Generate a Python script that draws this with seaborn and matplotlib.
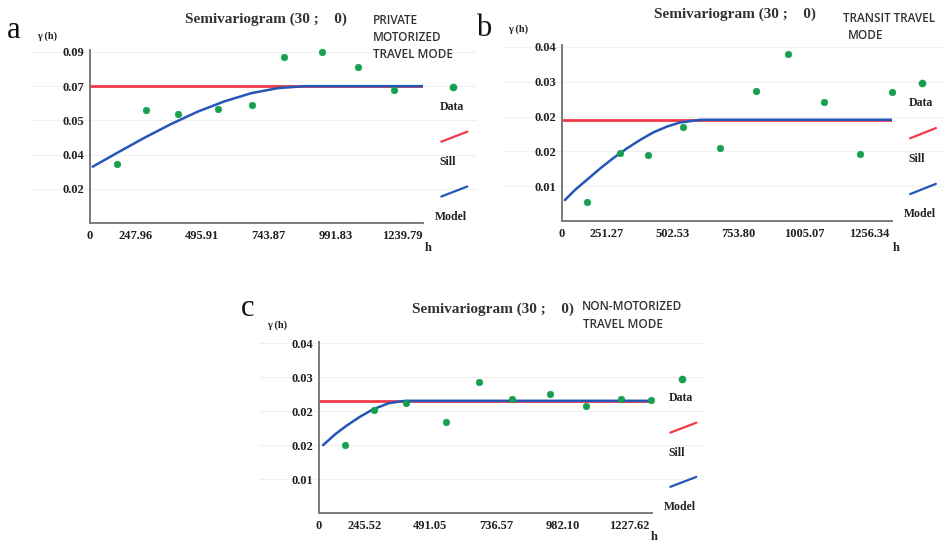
import matplotlib
matplotlib.use("Agg")
import matplotlib.pyplot as plt
import matplotlib.transforms as mtransforms
import pandas as pd
import seaborn as sns

# ---------------- data ----------------
# Panel a: private motorized travel mode
a_lag = [100, 208, 328, 477, 603, 722, 864, 998, 1132]
a_gamma = [0.0302, 0.0578, 0.0558, 0.0583, 0.0604, 0.0849, 0.0875, 0.0798, 0.0681]
a_model_h = [10, 100, 200, 300, 400, 500, 600, 700, 800, 1240]
a_model_g = [0.0288, 0.0358, 0.0434, 0.0505, 0.0569, 0.0622, 0.0664, 0.0690, 0.0700, 0.0700]
a_sill = 0.070
a_xticks = [0, 247.96, 495.91, 743.87, 991.83, 1239.79]
a_xlabels = ["0", "247.96", "495.91", "743.87", "991.83", "1239.79"]
a_yticks = [0.0175, 0.035, 0.0525, 0.07, 0.0875]
a_ylabels = ["0.02", "0.04", "0.05", "0.07", "0.09"]

# Panel b: transit travel mode
b_lag = [96, 223, 329, 464, 604, 742, 864, 1001, 1141, 1261]
b_gamma = [0.0040, 0.0147, 0.0142, 0.0203, 0.0157, 0.0281, 0.0359, 0.0257, 0.0145, 0.0277]
b_model_h = [11, 50, 100, 150, 200, 250, 300, 350, 400, 450, 530, 1262]
b_model_g = [0.0045, 0.0067, 0.0091, 0.0115, 0.0137, 0.0157, 0.0175, 0.0191, 0.0203, 0.0212, 0.0218, 0.0218]
b_sill = 0.0218
b_xticks = [0, 251.27, 502.53, 753.80, 1005.07, 1256.34]
b_xlabels = ["0", "251.27", "502.53", "753.80", "1005.07", "1256.34"]
b_yticks = [0.0075, 0.015, 0.0225, 0.03, 0.0375]
b_ylabels = ["0.01", "0.02", "0.02", "0.03", "0.04"]

# Panel c: non-motorized travel mode
c_lag = [95, 203, 322, 473, 594, 716, 856, 990, 1120, 1234]
c_gamma = [0.0150, 0.0227, 0.0244, 0.0201, 0.0289, 0.0253, 0.0262, 0.0237, 0.0252, 0.0249]
c_model_h = [15, 60, 100, 150, 200, 260, 320, 1236]
c_model_g = [0.0150, 0.0174, 0.0192, 0.0212, 0.0229, 0.0243, 0.0248, 0.0248]
c_sill = 0.0248
c_xticks = [0, 245.52, 491.05, 736.57, 982.10, 1227.62]
c_xlabels = ["0", "245.52", "491.05", "736.57", "982.10", "1227.62"]
c_yticks = [0.0075, 0.015, 0.0225, 0.03, 0.0375]
c_ylabels = ["0.01", "0.02", "0.02", "0.03", "0.04"]

# ---------------- style ----------------
sns.set_theme(style="white")
plt.rcParams["font.family"] = ["Liberation Serif", "DejaVu Serif"]

W, H = 949, 545
fig = plt.figure(figsize=(W / 100, H / 100), dpi=100)
fig.patch.set_facecolor("white")

GREEN = "#17a050"
RED = "#f03a45"
BLUE = "#2456b8"
SERIF = ["Liberation Serif", "DejaVu Serif"]
SANS = ["Open Sans", "Lato", "DejaVu Sans"]


def fx(x):
    return x / W


def fy(y):
    return 1 - y / H


def panel(rect_px, lag, gamma, mh, mg, sill, xticks, xlabels, yticks, ylabels,
          xlim, ylim, title_xy, note_lines, letter, letter_xy, gam_xy, h_xy):
    left, top, right, bottom = rect_px
    ax = fig.add_axes([fx(left), fy(bottom), (right - left) / W, (bottom - top) / H])
    ax.set_facecolor("none")

    # faint horizontal guide lines extending beyond the axes
    ax.hlines(yticks, -0.18, 1.16, transform=ax.get_yaxis_transform(),
              colors="#f0f0f0", lw=0.8, clip_on=False, zorder=0)

    sill_df = pd.DataFrame({"h": [0, xlim[1]], "g": [sill, sill]})
    sns.lineplot(data=sill_df, x="h", y="g", ax=ax, color=RED, lw=2.0, zorder=2)
    model_df = pd.DataFrame({"h": mh, "g": mg})
    sns.lineplot(data=model_df, x="h", y="g", ax=ax, color=BLUE, lw=1.8, zorder=3)
    pts = pd.DataFrame({"h": lag, "g": gamma})
    sns.scatterplot(data=pts, x="h", y="g", ax=ax, color=GREEN, s=22,
                    marker="o", edgecolor=GREEN, linewidth=0.5, zorder=4, clip_on=False)

    ax.set_xlim(*xlim)
    ax.set_ylim(*ylim)
    ax.set_xlabel("")
    ax.set_ylabel("")
    ax.set_xticks(xticks)
    ax.set_xticklabels(xlabels, fontfamily=SERIF, fontweight="bold", fontsize=9, color="#222222")
    ax.set_yticks(yticks)
    ax.set_yticklabels(ylabels, fontfamily=SERIF, fontweight="bold", fontsize=9, color="#222222")
    ax.tick_params(axis="x", direction="out", length=2.5, width=1.4, color="#333333", pad=2.5)
    ax.tick_params(axis="y", direction="in", length=2.5, width=1.2, color="#333333", pad=4)
    for side in ["top", "right"]:
        ax.spines[side].set_visible(False)
    for side in ["left", "bottom"]:
        ax.spines[side].set_color("#7a7a7a")
        ax.spines[side].set_linewidth(1.4)
    ax.grid(False)

    # x tick labels sit left of their tick marks in the reference
    shift = mtransforms.ScaledTranslation(-21 / 100, 0, fig.dpi_scale_trans)
    for i, lab in enumerate(ax.get_xticklabels()):
        if i > 0:
            lab.set_transform(lab.get_transform() + shift)

    # legend drawn at the right side
    ax.plot([1.09], [0.785], transform=ax.transAxes, marker="o", ms=4.5,
            color=GREEN, clip_on=False, ls="none")
    ax.text(1.087, 0.67, "Data", transform=ax.transAxes, ha="center", va="center",
            fontfamily=SERIF, fontweight="bold", fontsize=8.5, color="#222222")
    ax.plot([1.055, 1.133], [0.47, 0.528], transform=ax.transAxes, color=RED,
            lw=1.6, clip_on=False)
    ax.text(1.075, 0.35, "Sill", transform=ax.transAxes, ha="center", va="center",
            fontfamily=SERIF, fontweight="bold", fontsize=8.5, color="#222222")
    ax.plot([1.055, 1.133], [0.153, 0.211], transform=ax.transAxes, color=BLUE,
            lw=1.6, clip_on=False)
    ax.text(1.085, 0.037, "Model", transform=ax.transAxes, ha="center", va="center",
            fontfamily=SERIF, fontweight="bold", fontsize=8.5, color="#222222")

    # titles and labels
    fig.text(fx(title_xy[0]), fy(title_xy[1]), "Semivariogram (30 ;    0)",
             ha="center", va="center", fontfamily=SERIF, fontweight="bold",
             fontsize=11, color="#333333")
    for (txt, x, y) in note_lines:
        fig.text(fx(x), fy(y), txt, ha="left", va="center", fontfamily=SANS,
                 fontweight="semibold", fontsize=8.5, color="#333333")
    fig.text(fx(letter_xy[0]), fy(letter_xy[1]), letter, ha="center", va="center",
             fontfamily=SERIF, fontsize=22, color="#111111")
    fig.text(fx(gam_xy[0]), fy(gam_xy[1]), "γ (h)", ha="center", va="center",
             fontfamily=SERIF, fontweight="bold", fontsize=7.5, color="#222222")
    fig.text(fx(h_xy[0]), fy(h_xy[1]), "h", ha="center", va="center",
             fontfamily=SERIF, fontweight="bold", fontsize=9, color="#222222")
    return ax


panel((90, 50, 423, 223), a_lag, a_gamma, a_model_h, a_model_g, a_sill,
      a_xticks, a_xlabels, a_yticks, a_ylabels, (0, 1240), (0, 0.0885),
      (266, 19),
      [("PRIVATE", 373, 21), ("MOTORIZED", 373, 37.5), ("TRAVEL MODE", 373, 54)],
      "a", (14, 31), (47, 36), (428, 248))

panel((562, 45, 892, 221), b_lag, b_gamma, b_model_h, b_model_g, b_sill,
      b_xticks, b_xlabels, b_yticks, b_ylabels, (0, 1262), (0, 0.0379),
      (735, 14),
      [("TRANSIT TRAVEL", 843, 19), ("MODE", 848, 35)],
      "b", (484, 29), (518, 29), (896, 248))

panel((319, 342, 652, 513), c_lag, c_gamma, c_model_h, c_model_g, c_sill,
      c_xticks, c_xlabels, c_yticks, c_ylabels, (0, 1236), (0, 0.0378),
      (493, 309),
      [("NON-MOTORIZED", 582, 307), ("TRAVEL MODE", 583, 324)],
      "c", (248, 308), (277, 325), (654, 537))

fig.savefig("out.png", dpi=100, facecolor="white")
